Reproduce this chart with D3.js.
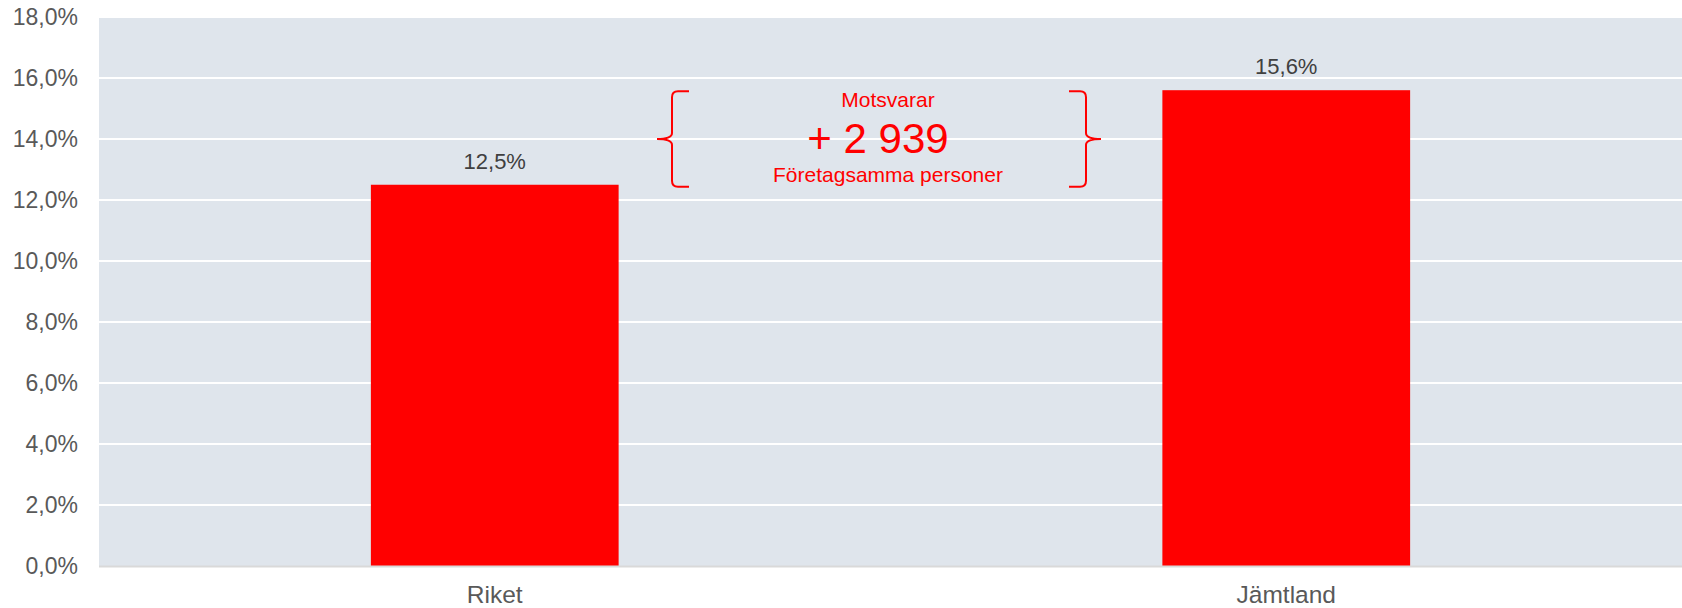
<!DOCTYPE html>
<html lang="sv">
<head>
    <meta charset="UTF-8">
    <title>Företagsamma personer</title>
    <script src="https://d3js.org/d3.v7.min.js"></script>
    <style>
        body { margin: 0; background: #fff; }
        text { font-family: "Liberation Sans", Arial, sans-serif; }
        .axis-y text { font-size: 23px; fill: #595959; }
        .axis-x text { font-size: 24.5px; fill: #595959; }
        .value { font-size: 22px; fill: #404040; }
        .note { fill: #ff0000; }
    </style>
</head>
<body>
    <svg width="1682" height="608"></svg>

    <script>
        const categories = ["Riket", "Jämtland"];
        const values = [12.5, 15.6];
        const valueLabels = ["12,5%", "15,6%"];
        const yTicks = [0, 2, 4, 6, 8, 10, 12, 14, 16, 18];
        const noteLines = ["Motsvarar", "+ 2 939", "Företagsamma personer"];

        const margin = { top: 17, right: 0, bottom: 42, left: 99 };
        const width = 1682 - margin.left - margin.right;
        const height = 608 - margin.top - margin.bottom;

        const svg = d3.select("svg")
            .append("g")
            .attr("transform", `translate(${margin.left}, ${margin.top})`);

        const x = d3.scaleBand()
            .domain(categories)
            .range([0, width])
            .paddingInner(0.687)
            .paddingOuter(0.3435);

        const y = d3.scaleLinear()
            .domain([0, 18])
            .range([height, 0]);

        // plot background
        svg.append("rect")
            .attr("width", width)
            .attr("height", height)
            .attr("fill", "#dfe5ec");

        // gridlines
        svg.selectAll(".grid")
            .data(yTicks.slice(1))
            .enter().append("line")
            .attr("x1", 0)
            .attr("x2", width)
            .attr("y1", d => y(d))
            .attr("y2", d => y(d))
            .attr("stroke", "#fff")
            .attr("stroke-width", 2);

        const yAxis = d3.axisLeft(y)
            .tickValues(yTicks)
            .tickSize(0)
            .tickPadding(21)
            .tickFormat(d => d3.format(".1f")(d).replace(".", ",") + "%");

        svg.append("g")
            .attr("class", "axis-y")
            .call(yAxis)
            .call(g => g.select(".domain").remove());

        svg.selectAll(".bar")
            .data(values)
            .enter().append("rect")
            .attr("class", "bar")
            .attr("x", (d, i) => x(categories[i]))
            .attr("y", d => y(d))
            .attr("width", x.bandwidth())
            .attr("height", d => height - y(d))
            .attr("fill", "#ff0000");

        // bottom axis line
        svg.append("line")
            .attr("x1", 0)
            .attr("x2", width)
            .attr("y1", height + 0.5)
            .attr("y2", height + 0.5)
            .attr("stroke", "#d9d9d9")
            .attr("stroke-width", 2);

        const xAxis = d3.axisBottom(x).tickSize(0).tickPadding(20);
        svg.append("g")
            .attr("class", "axis-x")
            .attr("transform", `translate(0, ${height})`)
            .call(xAxis)
            .call(g => g.select(".domain").remove());

        svg.selectAll(".value")
            .data(values)
            .enter().append("text")
            .attr("class", "value")
            .attr("x", (d, i) => x(categories[i]) + x.bandwidth() / 2)
            .attr("y", d => y(d) - 16)
            .attr("text-anchor", "middle")
            .text((d, i) => valueLabels[i]);

        // annotation between the bars
        const cx = (x(categories[0]) + x(categories[1]) + x.bandwidth()) / 2;
        const braceTop = y(values[1]) + 1;
        const braceBot = y(values[0]) + 2;
        const braceMid = (braceTop + braceBot) / 2;

        function brace(xv, dir) {
            // dir = 1 opens right (left brace), -1 opens left (right brace)
            const arm = xv + dir * 17, tip = xv - dir * 15;
            return `M${arm},${braceTop} L${xv + dir * 6},${braceTop} Q${xv},${braceTop} ${xv},${braceTop + 6}` +
                ` L${xv},${braceMid - 6} Q${xv},${braceMid} ${tip},${braceMid}` +
                ` Q${xv},${braceMid} ${xv},${braceMid + 6} L${xv},${braceBot - 6}` +
                ` Q${xv},${braceBot} ${xv + dir * 6},${braceBot} L${arm},${braceBot}`;
        }

        svg.append("path")
            .attr("d", brace(cx - 11.5 - 207, 1))
            .attr("fill", "none")
            .attr("stroke", "#ff0000")
            .attr("stroke-width", 2);

        svg.append("path")
            .attr("d", brace(cx - 11.5 + 207, -1))
            .attr("fill", "none")
            .attr("stroke", "#ff0000")
            .attr("stroke-width", 2);

        const note = svg.append("g").attr("class", "note").attr("text-anchor", "middle");
        note.append("text")
            .attr("x", cx - 2.5)
            .attr("y", 106.7 - margin.top)
            .attr("font-size", 21)
            .text(noteLines[0]);
        note.append("text")
            .attr("x", cx - 12.5)
            .attr("y", 153.3 - margin.top)
            .attr("font-size", 42)
            .text(noteLines[1]);
        note.append("text")
            .attr("x", cx - 2.5)
            .attr("y", 181.7 - margin.top)
            .attr("font-size", 21)
            .text(noteLines[2]);
    </script>
</body>
</html>
